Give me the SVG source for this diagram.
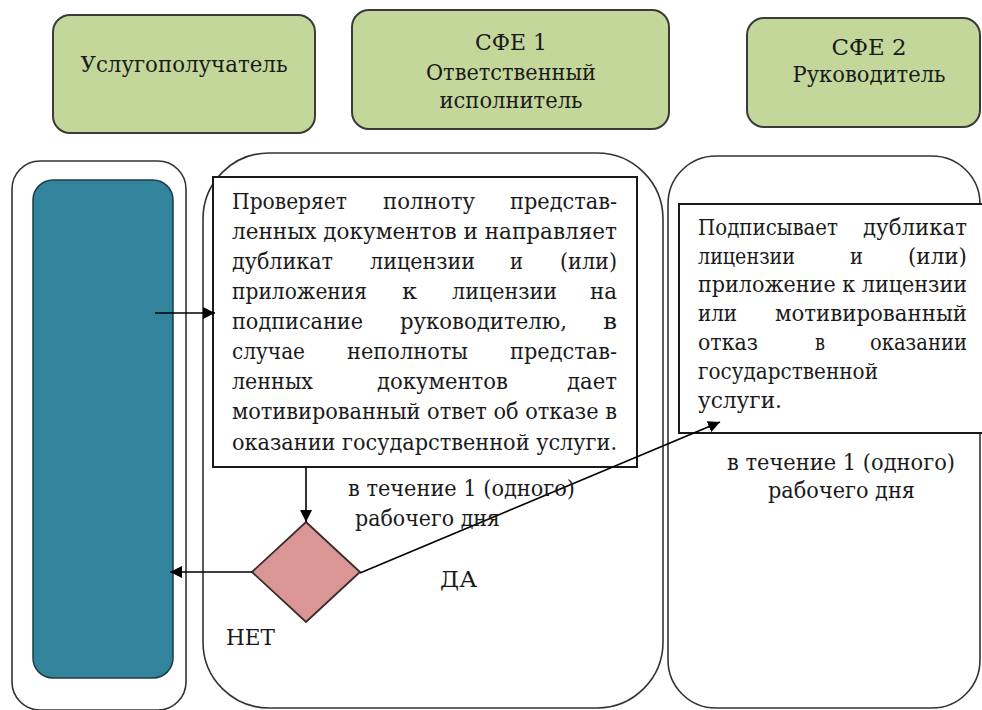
<svg xmlns="http://www.w3.org/2000/svg" width="982" height="710" viewBox="0 0 982 710">
<defs>
<marker id="arr" markerUnits="userSpaceOnUse" markerWidth="14" markerHeight="12" refX="12" refY="6" orient="auto">
<path d="M0,0 L12,6 L0,12 Z" fill="#000"/>
</marker>
<style>
text{font-family:'DejaVu Serif','Liberation Serif',serif;font-size:22px;fill:#1a1a1a}
.hdr{fill:#c4d79b;stroke:#3a3a3a;stroke-width:2}
.lane{fill:none;stroke:#333;stroke-width:1.6}
.box{fill:#fff;stroke:#1a1a1a;stroke-width:2}
.con{fill:none;stroke:#000;stroke-width:1.6}
.c{text-anchor:middle}
</style>
</defs>
<rect width="982" height="710" fill="#fff"/>

<g id="lane1"><rect class="lane" x="12" y="161" width="174" height="549" rx="28"/></g>
<g id="lane2"><rect class="lane" x="203" y="153" width="460" height="555" rx="66"/></g>
<g id="lane3"><rect class="lane" x="668" y="156" width="312" height="552" rx="48"/></g>

<g id="hdr1">
<rect class="hdr" x="53" y="15" width="262" height="118" rx="17"/>
<text class="c" x="184" y="72" textLength="207" lengthAdjust="spacingAndGlyphs">Услугополучатель</text>
</g>
<g id="hdr2">
<rect class="hdr" x="352" y="10" width="317" height="119" rx="17"/>
<text class="c"><tspan x="511" y="50" textLength="72" lengthAdjust="spacingAndGlyphs">СФЕ 1</tspan><tspan x="511" y="80" textLength="170" lengthAdjust="spacingAndGlyphs">Ответственный</tspan><tspan x="511" y="108" textLength="143" lengthAdjust="spacingAndGlyphs">исполнитель</tspan></text>
</g>
<g id="hdr3">
<rect class="hdr" x="747" y="18" width="233" height="109" rx="17"/>
<text class="c"><tspan x="869" y="55" textLength="75" lengthAdjust="spacingAndGlyphs">СФЕ 2</tspan><tspan x="869" y="82" textLength="153" lengthAdjust="spacingAndGlyphs">Руководитель</tspan></text>
</g>

<g id="applicant"><rect x="33" y="180" width="140" height="498" rx="20" fill="#31849b" stroke="#1f3b44" stroke-width="1.5"/></g>

<g id="step1">
<rect class="box" x="213" y="177" width="424" height="290"/>
<text>
<tspan x="232" y="209" textLength="115" lengthAdjust="spacingAndGlyphs">Проверяет</tspan><tspan x="383" y="209" textLength="92" lengthAdjust="spacingAndGlyphs">полноту</tspan><tspan x="510" y="209" textLength="107" lengthAdjust="spacingAndGlyphs">представ-</tspan>
<tspan x="232" y="239" textLength="385" lengthAdjust="spacingAndGlyphs">ленных документов и направляет</tspan>
<tspan x="232" y="269" textLength="101" lengthAdjust="spacingAndGlyphs">дубликат</tspan><tspan x="370" y="269" textLength="105" lengthAdjust="spacingAndGlyphs">лицензии</tspan><tspan x="510" y="269" textLength="13" lengthAdjust="spacingAndGlyphs">и</tspan><tspan x="560" y="269" textLength="57" lengthAdjust="spacingAndGlyphs">(или)</tspan>
<tspan x="232" y="299" textLength="135" lengthAdjust="spacingAndGlyphs">приложения</tspan><tspan x="402" y="299" textLength="15" lengthAdjust="spacingAndGlyphs">к</tspan><tspan x="452" y="299" textLength="105" lengthAdjust="spacingAndGlyphs">лицензии</tspan><tspan x="590" y="299" textLength="27" lengthAdjust="spacingAndGlyphs">на</tspan>
<tspan x="232" y="329" textLength="131" lengthAdjust="spacingAndGlyphs">подписание</tspan><tspan x="400" y="329" textLength="167" lengthAdjust="spacingAndGlyphs">руководителю,</tspan><tspan x="603" y="329" textLength="14" lengthAdjust="spacingAndGlyphs">в</tspan>
<tspan x="232" y="359" textLength="73" lengthAdjust="spacingAndGlyphs">случае</tspan><tspan x="347" y="359" textLength="121" lengthAdjust="spacingAndGlyphs">неполноты</tspan><tspan x="510" y="359" textLength="107" lengthAdjust="spacingAndGlyphs">представ-</tspan>
<tspan x="232" y="389" textLength="81" lengthAdjust="spacingAndGlyphs">ленных</tspan><tspan x="377" y="389" textLength="131" lengthAdjust="spacingAndGlyphs">документов</tspan><tspan x="567" y="389" textLength="50" lengthAdjust="spacingAndGlyphs">дает</tspan>
<tspan x="232" y="419" textLength="385" lengthAdjust="spacingAndGlyphs">мотивированный ответ об отказе в</tspan>
<tspan x="232" y="450" textLength="385" lengthAdjust="spacingAndGlyphs">оказании государственной услуги.</tspan>
</text>
</g>

<g id="decision"><polygon points="306,522 360,572 306,622 252,572" fill="#d99694" stroke="#3a2a2a" stroke-width="1.8"/></g>

<g id="step2">
<rect class="box" x="679" y="204" width="310" height="229"/>
<text>
<tspan x="698" y="235" textLength="140" lengthAdjust="spacingAndGlyphs">Подписывает</tspan><tspan x="863" y="235" textLength="104" lengthAdjust="spacingAndGlyphs">дубликат</tspan>
<tspan x="698" y="264" textLength="97" lengthAdjust="spacingAndGlyphs">лицензии</tspan><tspan x="850" y="264" textLength="13" lengthAdjust="spacingAndGlyphs">и</tspan><tspan x="908" y="264" textLength="59" lengthAdjust="spacingAndGlyphs">(или)</tspan>
<tspan x="698" y="292" textLength="269" lengthAdjust="spacingAndGlyphs">приложение к лицензии</tspan>
<tspan x="698" y="321" textLength="39" lengthAdjust="spacingAndGlyphs">или</tspan><tspan x="775" y="321" textLength="192" lengthAdjust="spacingAndGlyphs">мотивированный</tspan>
<tspan x="698" y="350" textLength="60" lengthAdjust="spacingAndGlyphs">отказ</tspan><tspan x="815" y="350" textLength="10" lengthAdjust="spacingAndGlyphs">в</tspan><tspan x="870" y="350" textLength="97" lengthAdjust="spacingAndGlyphs">оказании</tspan>
<tspan x="698" y="379" textLength="180" lengthAdjust="spacingAndGlyphs">государственной</tspan>
<tspan x="698" y="408" textLength="84" lengthAdjust="spacingAndGlyphs">услуги.</tspan>
</text>
</g>

<g id="connectors">
<line class="con" x1="155" y1="313" x2="215" y2="313" marker-end="url(#arr)"/>
<line class="con" x1="306" y1="467" x2="306" y2="522" marker-end="url(#arr)"/>
<line class="con" x1="252" y1="572" x2="170" y2="572" marker-end="url(#arr)"/>
<line class="con" x1="360" y1="573" x2="720" y2="422" marker-end="url(#arr)"/>
</g>

<g id="labels">
<text x="348" y="496" textLength="227" lengthAdjust="spacingAndGlyphs">в течение 1 (одного)</text>
<text x="355" y="526" textLength="145" lengthAdjust="spacingAndGlyphs">рабочего дня</text>
<text x="440" y="587" textLength="37" lengthAdjust="spacingAndGlyphs">ДА</text>
<text x="226" y="645" textLength="49" lengthAdjust="spacingAndGlyphs">НЕТ</text>
<text x="727" y="470" textLength="228" lengthAdjust="spacingAndGlyphs">в течение 1 (одного)</text>
<text x="768" y="498" textLength="147" lengthAdjust="spacingAndGlyphs">рабочего дня</text>
</g>
</svg>
